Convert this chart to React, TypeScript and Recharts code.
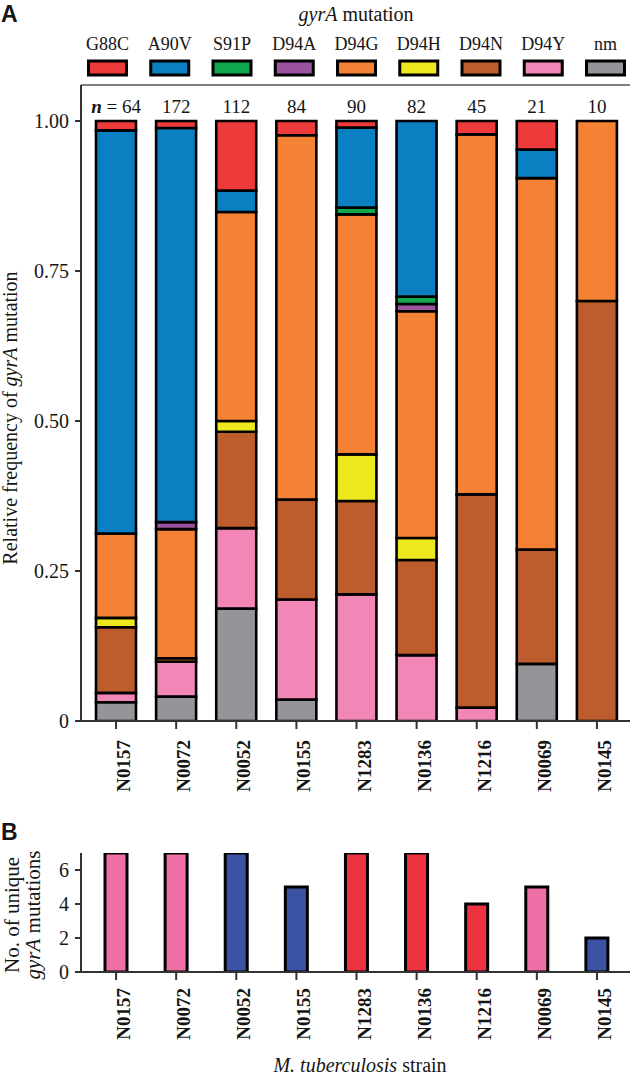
import React from 'react';
import { BarChart, Bar, XAxis, YAxis, Cell } from 'recharts';

const strains = ['N0157', 'N0072', 'N0052', 'N0155', 'N1283', 'N0136', 'N1216', 'N0069', 'N0145'];
const nTotals = [64, 172, 112, 84, 90, 82, 45, 21, 10];

// isolates carrying each gyrA mutation, per strain (same order as strains)
const G88C = [1, 2, 13, 2, 1, 0, 1, 1, 0];
const A90V = [43, 113, 4, 0, 12, 24, 0, 1, 0];
const S91P = [0, 0, 0, 0, 1, 1, 0, 0, 0];
const D94A = [0, 2, 0, 0, 0, 1, 0, 0, 0];
const D94G = [9, 37, 39, 51, 36, 31, 27, 13, 3];
const D94H = [1, 0, 2, 0, 7, 3, 0, 0, 0];
const D94N = [7, 1, 18, 14, 14, 13, 16, 4, 7];
const D94Y = [1, 10, 15, 14, 19, 9, 1, 0, 0];
const nm = [2, 7, 21, 3, 0, 0, 0, 2, 0];

const mutations = ['G88C', 'A90V', 'S91P', 'D94A', 'D94G', 'D94H', 'D94N', 'D94Y', 'nm'];
const mutationColors = ['#ee3a3a', '#0a80c2', '#10a84f', '#9b529f', '#f58234', '#eee81f', '#bd5c2d', '#f286b6', '#939598'];

const freqTicks = [0, 0.25, 0.5, 0.75, 1];

const uniqueMutations = [7, 7, 7, 5, 7, 7, 4, 5, 2];
const uniqueColors = ['#ef6fa7', '#ef6fa7', '#3a53a3', '#3a53a3', '#ee3340', '#ee3340', '#ee3340', '#ef6fa7', '#3a53a3'];
const uniqueTicks = [0, 2, 4, 6];

const counts: Record<string, number[]> = { G88C, A90V, S91P, D94A, D94G, D94H, D94N, D94Y, nm };

// relative frequency = isolates with the mutation / isolates of the strain
const freqData = strains.map((strain, i) => {
  const row: any = { strain, n: nTotals[i] };
  mutations.forEach((m) => (row[m] = counts[m][i] / nTotals[i]));
  return row;
});

const uniqueData = strains.map((strain, i) => ({ strain, unique: uniqueMutations[i] }));

const SERIF = "'Liberation Serif', 'Times New Roman', Times, serif";
const SANS = "'Liberation Sans', Arial, sans-serif";
const INK = '#151515';

const StrainTick = (props: any) => {
  const { x, y, payload, dy = 9 } = props;
  const tx = x + 14;
  const ty = y + dy;
  return (
    <text
      x={tx}
      y={ty}
      transform={`rotate(-90 ${tx} ${ty})`}
      textAnchor="end"
      style={{ fontFamily: SERIF, fontWeight: 'bold', fontSize: 19 }}
      fill={INK}
    >
      {payload.value}
    </text>
  );
};

const ValueTick = (props: any) => {
  const { x, y, payload, fmt } = props;
  return (
    <text x={x} y={y} dy={7} textAnchor="end" style={{ fontFamily: SERIF, fontSize: 20 }} fill={INK}>
      {fmt ? fmt(payload.value) : String(payload.value)}
    </text>
  );
};

// n per strain, written just under the top frame line
const NTick = (props: any) => {
  const { x, payload, index } = props;
  const i = typeof index === 'number' ? index : strains.indexOf(payload.value);
  return (
    <text x={x} y={113} textAnchor="middle" style={{ fontFamily: SERIF, fontSize: 19 }} fill={INK}>
      {i === 0 ? (
        <>
          <tspan fontWeight="bold" fontStyle="italic">n</tspan>
          <tspan> = {nTotals[i]}</tspan>
        </>
      ) : (
        String(nTotals[i])
      )}
    </text>
  );
};

const axisStyle = { stroke: '#333', strokeWidth: 2 };
const frameStyle = { stroke: '#555', strokeWidth: 1.5 };
const freqFmt = (v: number) => (v === 0 ? '0' : v.toFixed(2));

const stackOrder = [...mutations].reverse();

const App = () => {
  return (
    <div
      style={{
        position: 'absolute',
        left: 0,
        top: 0,
        width: 633,
        height: 1077,
        background: '#fff',
        fontFamily: SERIF,
      }}
    >
      <div style={{ position: 'absolute', left: 0, top: 0 }}>
        <BarChart width={633} height={800} data={freqData} margin={{ top: 55, right: 3, left: 0, bottom: 9 }}>
          <XAxis
            dataKey="strain"
            height={70}
            interval={0}
            padding={{ left: 5, right: 3 }}
            tickSize={8}
            tickMargin={2}
            axisLine={axisStyle}
            tickLine={axisStyle}
            tick={<StrainTick dy={9} />}
          />
          <XAxis
            xAxisId="top"
            orientation="top"
            dataKey="strain"
            height={30}
            interval={0}
            padding={{ left: 5, right: 3 }}
            tickSize={0}
            tickLine={false}
            axisLine={frameStyle}
            tick={<NTick />}
          />
          <YAxis
            width={81}
            domain={[0, 1.06]}
            ticks={freqTicks}
            allowDataOverflow
            tickSize={6}
            tickMargin={6}
            axisLine={axisStyle}
            tickLine={axisStyle}
            tick={<ValueTick fmt={freqFmt} />}
          />
          <YAxis yAxisId="r" orientation="right" width={0} tick={false} tickLine={false} axisLine={frameStyle} />
          {stackOrder.map((m) => (
            <Bar
              key={m}
              dataKey={m}
              stackId="a"
              barSize={40}
              fill={mutationColors[mutations.indexOf(m)]}
              stroke="#000"
              strokeWidth={2.6}
              isAnimationActive={false}
            />
          ))}
        </BarChart>
      </div>

      <div style={{ position: 'absolute', left: 0, top: 800 }}>
        <BarChart width={633} height={277} data={uniqueData} margin={{ top: 53, right: 3, left: 0, bottom: 5 }}>
          <XAxis
            dataKey="strain"
            height={100}
            interval={0}
            padding={{ left: 5, right: 3 }}
            tickSize={8}
            tickMargin={2}
            axisLine={axisStyle}
            tickLine={axisStyle}
            tick={<StrainTick dy={6} />}
          />
          <XAxis xAxisId="top" orientation="top" dataKey="strain" height={0} tick={false} tickLine={false} axisLine={frameStyle} />
          <YAxis
            width={81}
            domain={[0, 7]}
            ticks={uniqueTicks}
            allowDataOverflow
            tickSize={6}
            tickMargin={6}
            axisLine={axisStyle}
            tickLine={axisStyle}
            tick={<ValueTick />}
          />
          <YAxis yAxisId="r" orientation="right" width={0} tick={false} tickLine={false} axisLine={frameStyle} />
          <Bar dataKey="unique" barSize={22} stroke="#000" strokeWidth={3} isAnimationActive={false}>
            {uniqueData.map((d, i) => (
              <Cell key={d.strain} fill={uniqueColors[i]} />
            ))}
          </Bar>
        </BarChart>
      </div>

      <svg
        width={633}
        height={1077}
        style={{ position: 'absolute', left: 0, top: 0, pointerEvents: 'none', fontFamily: SERIF }}
      >
        <text x={1} y={22} style={{ fontFamily: SANS, fontWeight: 'bold', fontSize: 23 }} fill={INK}>A</text>
        <text x={356} y={21} textAnchor="middle" style={{ fontSize: 20 }} fill={INK}>
          <tspan fontStyle="italic">gyrA</tspan> mutation
        </text>
        {mutations.map((m, i) => {
          const cx = 107.5 + i * 62.25;
          return (
            <g key={m}>
              <text x={cx} y={50} textAnchor="middle" style={{ fontSize: 18 }} fill={INK}>{m}</text>
              <rect x={cx - 19} y={61} width={38} height={14} fill={mutationColors[i]} stroke="#000" strokeWidth={3} />
            </g>
          );
        })}
        <text x={17} y={418} transform="rotate(-90 17 418)" textAnchor="middle" style={{ fontSize: 20 }} fill={INK}>
          Relative frequency of <tspan fontStyle="italic">gyrA</tspan> mutation
        </text>

        <text x={1} y={840} style={{ fontFamily: SANS, fontWeight: 'bold', fontSize: 23 }} fill={INK}>B</text>
        <text x={19} y={915} transform="rotate(-90 19 915)" textAnchor="middle" style={{ fontSize: 21 }} fill={INK}>
          No. of unique
        </text>
        <text x={40} y={915} transform="rotate(-90 40 915)" textAnchor="middle" style={{ fontSize: 21 }} fill={INK}>
          <tspan fontStyle="italic">gyrA</tspan> mutations
        </text>
        <text x={360} y={1072} textAnchor="middle" style={{ fontSize: 20 }} fill={INK}>
          <tspan fontStyle="italic">M. tuberculosis</tspan> strain
        </text>
      </svg>
    </div>
  );
};

export default App;
